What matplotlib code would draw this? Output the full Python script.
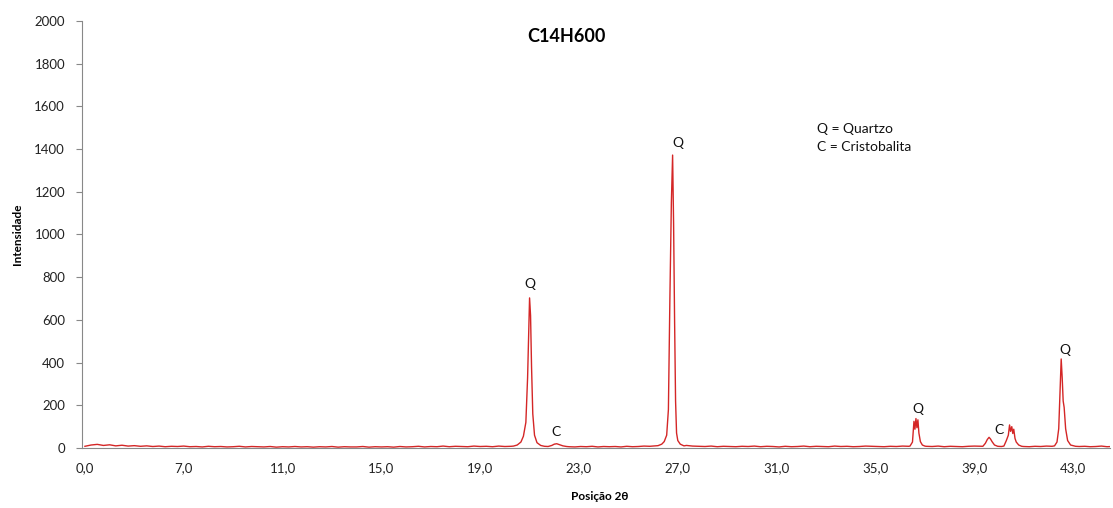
import numpy as np
import matplotlib
matplotlib.use("Agg")
import matplotlib.pyplot as plt

plt.rcParams['font.family'] = ['Lato', 'DejaVu Sans']

# background stretches (counts, evenly spaced in 2theta)
bg1_counts = [8, 14, 17, 12, 15, 10, 13, 9, 11, 8,
              10, 7, 9, 6, 8, 7, 9, 6, 7, 5,
              8, 6, 7, 5, 6, 8, 5, 7, 6, 5,
              7, 4, 6, 5, 7, 5, 6, 4, 6, 5,
              7, 4, 6, 5, 5, 7, 4, 6, 5, 6,
              4, 7, 5, 6, 8, 5, 7, 6, 9, 6,
              8, 7, 6, 9, 7, 8, 6, 9, 7, 8]
bg2_counts = [6, 5, 7, 6, 8, 5, 7, 6, 7, 5, 8, 6, 7, 9, 8, 10]
bg3_counts = [12, 9, 8, 7, 9, 6, 8, 7, 6, 8, 7, 9, 6, 8, 7, 5, 8, 6, 7,
              9, 6, 8, 7, 6, 9, 7, 8, 6, 7, 9, 8, 7, 6, 8, 7, 9, 8]
bg4_counts = [8, 7, 9, 6, 8, 7, 6, 8, 9, 8]
bg6_counts = [7, 6, 8, 7, 9, 8]
bg7_counts = [7, 8, 6, 7, 9, 6, 7]

bg_ranges = [(3.0, 20.25, bg1_counts), (22.6, 26.1, bg2_counts),
             (27.35, 36.35, bg3_counts), (37.05, 39.25, bg4_counts),
             (41.0, 42.15, bg6_counts), (43.25, 44.6, bg7_counts)]

# peaks
pk1_theta = [20.35, 20.5, 20.65, 20.75, 20.85, 20.92, 20.97, 21.0, 21.04, 21.08, 21.13, 21.2, 21.3, 21.45, 21.6]
pk1_counts = [9, 14, 28, 55, 120, 330, 560, 703, 620, 380, 160, 60, 25, 12, 8]
c1_theta = [21.75, 21.9, 22.0, 22.1, 22.2, 22.35, 22.5]
c1_counts = [7, 12, 18, 20, 16, 10, 7]
pk2_theta = [26.2, 26.35, 26.45, 26.55, 26.62, 26.68, 26.74, 26.79, 26.83, 26.87, 26.91, 26.95, 27.0, 27.1, 27.25]
pk2_counts = [11, 18, 30, 60, 180, 700, 1150, 1372, 1050, 600, 220, 70, 35, 18, 10]
pk3_theta = [36.4, 36.5, 36.56, 36.6, 36.64, 36.68, 36.72, 36.76, 36.82, 36.9, 37.0]
pk3_counts = [9, 28, 125, 88, 138, 95, 132, 70, 30, 14, 9]
pk4_theta = [39.35, 39.45, 39.53, 39.6, 39.66, 39.72, 39.82, 39.95, 40.1]
pk4_counts = [8, 22, 40, 50, 42, 30, 14, 8, 7]
pk5_theta = [40.2, 40.3, 40.38, 40.43, 40.47, 40.52, 40.56, 40.6, 40.65, 40.7, 40.8, 40.92]
pk5_counts = [9, 35, 60, 108, 78, 100, 68, 88, 45, 28, 14, 8]
pk6_theta = [42.25, 42.35, 42.42, 42.47, 42.52, 42.56, 42.6, 42.64, 42.7, 42.78, 42.9, 43.1]
pk6_counts = [10, 28, 90, 260, 417, 330, 220, 190, 90, 35, 14, 8]

tick_pos = [3, 7, 11, 15, 19, 23, 27, 31, 35, 39, 43]
tick_labels = ["0,0", "7,0", "11,0", "15,0", "19,0", "23,0", "27,0", "31,0", "35,0", "39,0", "43,0"]

peak_labels = [("Q", 21.0, 768), ("C", 22.05, 75), ("Q", 27.0, 1429),
               ("Q", 36.7, 185), ("C", 40.0, 85), ("Q", 42.65, 460)]

theta = []
counts = []
for a, b, c in bg_ranges:
    theta += list(np.linspace(a, b, len(c)))
    counts += c
for t, c in [(pk1_theta, pk1_counts), (c1_theta, c1_counts), (pk2_theta, pk2_counts),
             (pk3_theta, pk3_counts), (pk4_theta, pk4_counts), (pk5_theta, pk5_counts),
             (pk6_theta, pk6_counts)]:
    theta += t
    counts += c
theta = np.array(theta)
counts = np.array(counts)
order = np.argsort(theta)
theta, counts = theta[order], counts[order]

fig = plt.figure(figsize=(11.13, 5.08), dpi=100)
ax = fig.add_axes([0.0734, 0.1181, 0.924, 0.8406])
ax.plot(theta, counts, color="#d42626", lw=1.0)

ax.set_xlim(2.87, 44.5)
ax.set_ylim(0, 2000)
ax.set_yticks(range(0, 2001, 200))
ax.set_xticks(tick_pos)
ax.set_xticklabels(tick_labels)
ax.tick_params(axis="x", length=0, pad=10, labelsize=9.5, colors="#222222")
ax.tick_params(axis="y", length=4, width=0.8, color="#888888", pad=8, labelsize=9.5, labelcolor="#222222")
for s in ["top", "right"]:
    ax.spines[s].set_visible(False)
for s in ["left", "bottom"]:
    ax.spines[s].set_color("#888888")
    ax.spines[s].set_linewidth(0.8)

for lab, x, y in peak_labels:
    ax.text(x, y, lab, ha="center", va="center", fontsize=10, color="#111111")

ax.text(0.715, 0.726, "Q = Quartzo\nC = Cristobalita", transform=ax.transAxes,
        fontsize=10, va="center", ha="left", linespacing=1.55, color="#111111")

fig.text(566 / 1113, 1 - 37 / 508, "C14H600", ha="center", va="center",
         fontsize=13, fontweight="bold")
fig.text(600 / 1113, 1 - 497 / 508, "Posição 2θ", ha="center", va="center",
         fontsize=8.5, fontweight="bold")
fig.text(17 / 1113, 1 - 234 / 508, "Intensidade", ha="center", va="center",
         fontsize=8.5, fontweight="bold", rotation=90)

fig.savefig("out.png", dpi=100)
